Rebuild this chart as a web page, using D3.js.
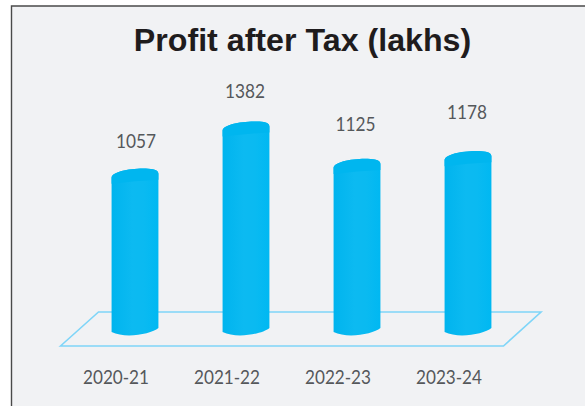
<!DOCTYPE html>
<html><head><meta charset="utf-8">
<script src="https://cdn.jsdelivr.net/npm/d3@7/dist/d3.min.js"></script>
<style>html,body{margin:0;padding:0;background:#fff}svg{display:block}</style>
</head><body><svg id="c" width="585" height="406"></svg>
<script>
const categories = ["2020-21","2021-22","2022-23","2023-24"];
const values = [1057,1382,1125,1178];
const title = "Profit after Tax (lakhs)";
const labelLift = [21,24,28,32];
const labelShift = [1,-1,-1.5,-1];

const svg = d3.select("#c");
const x = d3.scaleBand().domain(categories).range([79.5,523.5]).paddingInner(0.578).paddingOuter(0.289);
const y = d3.scaleLinear().domain([0,1400]).range([322,119]);

svg.append("rect").attr("x",11).attr("y",6).attr("width",574).attr("height",400).attr("fill","#f1f2f4");
svg.append("path").attr("d","M11.5,406V6H585").attr("fill","none").attr("stroke","#4a4a4a").attr("stroke-width",1.4);

const defs = svg.append("defs");
const g = defs.append("linearGradient").attr("id","body");
[[0,"#00b4ee"],[0.45,"#0cbaf1"],[0.7,"#0abaf1"],[1,"#00b8f2"]].forEach(s=>g.append("stop").attr("offset",s[0]).attr("stop-color",s[1]));

svg.append("path").attr("d",d3.line()([[60.5,346],[98.5,312],[541,312],[503.5,346]])+"Z")
  .attr("fill","none").attr("stroke","#7fd5f8").attr("stroke-width",1.6);

const bars = svg.append("g").selectAll("g").data(values).join("g");
const floorY = y(0);
function capEdge(d,i){
  const x0=x(categories[i]), x1=x0+x.bandwidth(), t=y(d);
  return `M${x0},${t+9}C${x0},${t+3} ${x0+20},${t-1} ${x1-10},${t}C${x1-3},${t+.3} ${x1},${t+2} ${x1},${t+5}`;
}
function shape(d,i){
  const x0=x(categories[i]), x1=x0+x.bandwidth();
  return capEdge(d,i)+`L${x1},${floorY+6}C${x1-7},${floorY+12} ${x0+14},${floorY+17} ${x0},${floorY+10}Z`;
}
bars.append("path").attr("d",shape).attr("fill","url(#body)");
bars.append("path").attr("fill","#00b6ef").attr("d",(d,i)=>{
  const x0=x(categories[i]), x1=x0+x.bandwidth(), t=y(d);
  return capEdge(d,i)+`L${x1},${t+11}Q${(x0+x1)/2},${t+12} ${x0},${t+15}Z`;
});

const lab = "Lato, 'Open Sans', sans-serif";
svg.append("g").selectAll("text").data(values).join("text")
  .attr("x",(d,i)=>x(categories[i])+x.bandwidth()/2+labelShift[i]).attr("y",(d,i)=>y(d)-labelLift[i])
  .attr("text-anchor","middle").attr("font-family",lab).attr("font-size",20)
  .attr("textLength",40).attr("lengthAdjust","spacingAndGlyphs").attr("fill","#55585b").text(d=>d);
svg.append("g").selectAll("text").data(categories).join("text")
  .attr("x",c=>x(c)+x.bandwidth()/2-19).attr("y",384)
  .attr("text-anchor","middle").attr("font-family",lab).attr("font-size",20)
  .attr("textLength",66).attr("lengthAdjust","spacingAndGlyphs").attr("fill","#55585b").text(c=>c);

svg.append("text").attr("x",302.5).attr("y",51).attr("text-anchor","middle")
  .attr("font-family","'Liberation Sans',Arial,sans-serif").attr("font-weight",700).attr("font-size",32.2)
  .attr("fill","#1f1c1d").text(title);
</script></body></html>
